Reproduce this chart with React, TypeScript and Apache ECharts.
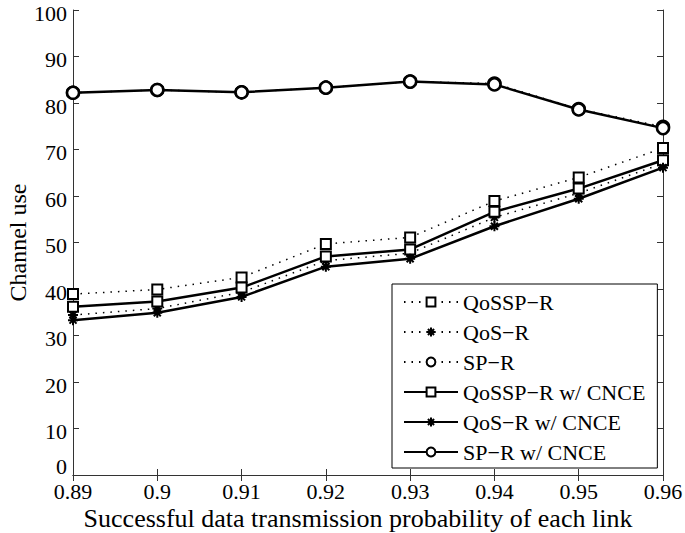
import React, { useEffect, useRef } from "react";
import * as echarts from "echarts";

const categories = ["0.89", "0.9", "0.91", "0.92", "0.93", "0.94", "0.95", "0.96"];
const yTicks = { min: 0, max: 100, interval: 10 };

const qossprDotted = [38.9, 39.9, 42.5, 49.7, 51.1, 58.9, 64.0, 70.3];
const qosrDotted = [34.4, 35.8, 39.3, 46.1, 47.7, 55.4, 60.6, 67.0];
const sprDotted = [82.2, 82.8, 82.3, 83.3, 84.6, 84.2, 78.7, 74.9];
const qossprCnce = [36.2, 37.3, 40.3, 47.0, 48.5, 56.6, 61.6, 67.7];
const qosrCnce = [33.3, 34.9, 38.3, 44.8, 46.5, 53.5, 59.4, 66.1];
const sprCnce = [82.2, 82.8, 82.3, 83.3, 84.6, 84.0, 78.6, 74.6];

const names = [
  "QoSSP\u2212R",
  "QoS\u2212R",
  "SP\u2212R",
  "QoSSP\u2212R w/ CNCE",
  "QoS\u2212R w/ CNCE",
  "SP\u2212R w/ CNCE",
];

const FONT = "'Liberation Serif', 'Times New Roman', serif";
const STAR = "path://M5,0L5,10M0,5L10,5M1.5,1.5L8.5,8.5M8.5,1.5L1.5,8.5";

export default function App() {
  const ref = useRef<HTMLDivElement>(null);
  useEffect(() => {
    if (!ref.current) return;
    const chart = echarts.init(ref.current, undefined, { renderer: "svg" });

    const mk = (name: string, data: number[], dotted: boolean, kind: string) => {
      let symbol = "rect";
      let symbolSize = 10;
      let itemStyle: any = { color: "#fff", borderColor: "#000", borderWidth: 2 };
      if (kind === "star") {
        symbol = STAR;
        symbolSize = 10;
        itemStyle = { color: "#000", borderColor: "#000", borderWidth: 2 };
      } else if (kind === "circle") {
        symbol = "circle";
        symbolSize = 12;
        itemStyle = { color: "#fff", borderColor: "#000", borderWidth: 2.5 };
      }
      return {
        name,
        type: "line",
        data,
        symbol,
        symbolSize,
        showAllSymbol: true,
        itemStyle,
        lineStyle: dotted
          ? { color: "#000", width: 1.5, type: [1.5, 6] }
          : { color: "#000", width: 2.5, type: "solid" },
        z: dotted ? 2 : 3,
      };
    };

    const axisLineStyle = { color: "#333", width: 1 };
    const tickStyle = { show: true, inside: true, length: 6, lineStyle: axisLineStyle };

    chart.setOption({
      animation: false,
      backgroundColor: "#fff",
      textStyle: { fontFamily: FONT },
      grid: { left: 73, right: 22, top: 10, bottom: 58, containLabel: false, outerBoundsMode: "none" },
      legend: {
        data: names,
        orient: "vertical",
        left: 392,
        top: 284,
        padding: [7, 12, 5, 11],
        itemWidth: 54,
        itemHeight: 11,
        itemGap: 8,
        borderColor: "#000",
        borderWidth: 1,
        backgroundColor: "#fff",
        textStyle: { fontSize: 22, color: "#000", fontFamily: FONT, lineHeight: 22 },
      },
      xAxis: [
        {
          type: "category",
          data: categories,
          boundaryGap: false,
          name: "Successful data transmission probability of each link",
          nameLocation: "middle",
          nameGap: 30,
          nameMoveOverlap: false,
          nameTextStyle: { fontSize: 26, color: "#000", fontFamily: FONT, padding: [0, 20, 0, 0] },
          axisLine: { lineStyle: axisLineStyle },
          axisTick: { ...tickStyle, alignWithLabel: true },
          axisLabel: { fontSize: 22, color: "#000", fontFamily: FONT, margin: 8, lineHeight: 16, interval: 0 },
          splitLine: { show: false },
        },
        {
          type: "category",
          data: categories,
          boundaryGap: false,
          position: "top",
          axisLine: { lineStyle: axisLineStyle },
          axisTick: { ...tickStyle },
          axisLabel: { show: false },
          splitLine: { show: false },
        },
      ],
      yAxis: [
        {
          type: "value",
          min: yTicks.min,
          max: yTicks.max,
          interval: yTicks.interval,
          name: "Channel use",
          nameLocation: "middle",
          nameGap: 43,
          nameMoveOverlap: false,
          nameTextStyle: { fontSize: 24, color: "#000", fontFamily: FONT },
          axisLine: { show: true, lineStyle: axisLineStyle },
          axisTick: tickStyle,
          axisLabel: {
            fontSize: 22,
            color: "#000",
            fontFamily: FONT,
            margin: 6,
            lineHeight: 16,
            formatter: (v: number) => (v === 0 ? "{z|0}" : "{n|" + v + "}"),
            rich: {
              z: { fontSize: 22, fontFamily: FONT, color: "#000", lineHeight: 16, padding: [0, 0, 17, 0] },
              n: { fontSize: 22, fontFamily: FONT, color: "#000", lineHeight: 16, padding: [6, 0, 0, 0] },
            },
          },
          splitLine: { show: false },
        },
        {
          type: "value",
          min: yTicks.min,
          max: yTicks.max,
          interval: yTicks.interval,
          position: "right",
          axisLine: { show: true, lineStyle: axisLineStyle },
          axisTick: tickStyle,
          axisLabel: { show: false },
          splitLine: { show: false },
        },
      ],
      series: [
        mk(names[0], qossprDotted, true, "rect"),
        mk(names[1], qosrDotted, true, "star"),
        mk(names[2], sprDotted, true, "circle"),
        mk(names[3], qossprCnce, false, "rect"),
        mk(names[4], qosrCnce, false, "star"),
        mk(names[5], sprCnce, false, "circle"),
      ],
    });
    return () => chart.dispose();
  }, []);
  return <div ref={ref} style={{ width: 685, height: 533, position: "absolute", left: 0, top: 0 }} />;
}
